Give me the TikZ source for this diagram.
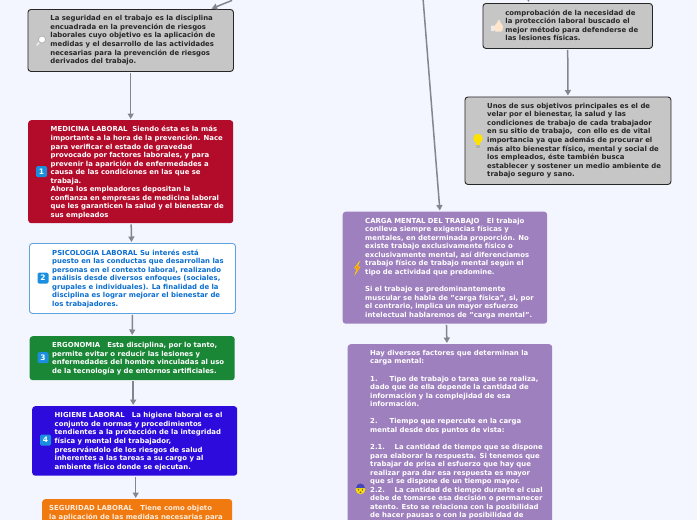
\documentclass[tikz,border=0pt]{standalone}
\usepackage{fontspec}
\setmainfont{DejaVu Sans}
\usetikzlibrary{calc,arrows.meta}
\definecolor{pagebg}{HTML}{F3F6FF}
\definecolor{cgray}{HTML}{C6C6C6}
\definecolor{cred}{HTML}{B30B2A}
\definecolor{cgreen}{HTML}{1A8736}
\definecolor{cindigo}{HTML}{2E0BDD}
\definecolor{corange}{HTML}{F07A10}
\definecolor{cpurple}{HTML}{9F80BF}
\definecolor{cblue}{HTML}{0A6ED0}
\definecolor{cline}{HTML}{85858D}
\definecolor{badge}{HTML}{1A8FE0}
\tikzset{
  x=1pt,y=-1pt,
  boxbase/.style={anchor=north west,inner sep=0pt,rounded corners=3pt},
  graybox/.style={boxbase,fill=cgray,draw=black!85,line width=0.9pt},
  flatbox/.style={boxbase,draw=none},
  txt/.style={anchor=north west,inner sep=0pt,align=left,
     font=\fontsize{6.9}{8.55}\selectfont\bfseries},
  arr/.style={draw=cline,line width=1.5pt,-{Triangle[length=5.5pt,width=6pt]},shorten >=1pt,shorten <=1pt},
  numbadge/.style={fill=badge,rounded corners=1.5pt,text=white,inner sep=0pt,
     minimum size=11pt,font=\fontsize{7.5}{8}\selectfont\bfseries},
}
\begin{document}
\begin{tikzpicture}
\useasboundingbox (0,0) rectangle (697,520);
\clip (0,0) rectangle (697,520);
\fill[pagebg] (0,0) rectangle (697,520);

% boxes
\node[graybox,minimum width=205.5pt,minimum height=62pt] (g1) at (27.5,9) {};
\node[flatbox,fill=cred,minimum width=205pt,minimum height=103pt] (red) at (28,120) {};
\node[boxbase,fill=white,draw=cblue!65,line width=0.9pt,minimum width=206pt,minimum height=70pt] (psi) at (29,243) {};
\node[flatbox,fill=cgreen,minimum width=205pt,minimum height=44pt] (erg) at (29.5,336) {};
\node[flatbox,fill=cindigo,minimum width=205pt,minimum height=69.5pt] (hig) at (32,406) {};
\node[flatbox,fill=corange,minimum width=190pt,minimum height=70pt] (seg) at (42,499) {};
\node[graybox,minimum width=169.5pt,minimum height=45pt] (g2) at (482.5,3) {};
\node[graybox,minimum width=206pt,minimum height=87.5pt] (g3) at (464.5,96.5) {};
\node[flatbox,fill=cpurple,minimum width=204.5pt,minimum height=112pt] (car) at (342.5,211.5) {};
\node[flatbox,fill=cpurple,minimum width=204.5pt,minimum height=260pt] (fac) at (347.5,344) {};

% texts
\node[txt,text=black!85] (tg1) at ($(g1.north west)+(22.7,6.4)$) {La seguridad en el trabajo es la disciplina\\encuadrada en la prevención de riesgos\\laborales cuyo objetivo es la aplicación de\\medidas y el desarrollo de las actividades\\necesarias para la prevención de riesgos\\derivados del trabajo.};
\node[txt,text=white] (tred) at ($(red.north west)+(22.5,6.2)$) {MEDICINA LABORAL\ \ Siendo ésta es la más\\importante a la hora de la prevención. Nace\\para verificar el estado de gravedad\\provocado por factores laborales, y para\\prevenir la aparición de enfermedades a\\causa de las condiciones en las que se\\trabaja.\\Ahora los empleadores depositan la\\confianza en empresas de medicina laboral\\que les garanticen la salud y el bienestar de\\sus empleados};
\node[txt,text=cblue] (tpsi) at ($(psi.north west)+(23,6.4)$) {PSICOLOGIA LABORAL Su interés está\\puesto en las conductas que desarrollan las\\personas en el contexto laboral, realizando\\análisis desde diversos enfoques (sociales,\\grupales e individuales). La finalidad de la\\disciplina es lograr mejorar el bienestar de\\los trabajadores.};
\node[txt,text=white] (terg) at ($(erg.north west)+(22.5,6.4)$) {ERGONOMIA\ \ \ Esta disciplina, por lo tanto,\\permite evitar o reducir las lesiones y\\enfermedades del hombre vinculadas al uso\\de la tecnología y de entornos artificiales.};
\node[txt,text=white] (thig) at ($(hig.north west)+(22.5,6.4)$) {HIGIENE LABORAL\ \ \ La higiene laboral es el\\conjunto de normas y procedimientos\\tendientes a la protección de la integridad\\física y mental del trabajador,\\preservándolo de los riesgos de salud\\inherentes a las tareas a su cargo y al\\ambiente físico donde se ejecutan.};
\node[txt,text=white!85!corange] (tseg) at ($(seg.north west)+(7,6.4)$) {SEGURIDAD LABORAL\ \ \ Tiene como objeto\\la aplicación de las medidas necesarias para};
\node[txt,text=black!85] (tg2) at ($(g2.north west)+(22.7,6.4)$) {comprobación de la necesidad de\\la protección laboral buscado el\\mejor método para defenderse de\\las lesiones físicas.};
\node[txt,text=black!85] (tg3) at ($(g3.north west)+(22.5,6.4)$) {Unos de sus objetivos principales es el de\\velar por el bienestar, la salud y las\\condiciones de trabajo de cada trabajador\\en su sitio de trabajo,\ \ con ello es de vital\\importancia ya que además de procurar el\\más alto bienestar físico, mental y social de\\los empleados, éste también busca\\establecer y sostener un medio ambiente de\\trabajo seguro y sano.};
\node[txt,text=white] (tcar) at ($(car.north west)+(22.5,6.2)$) {CARGA MENTAL DEL TRABAJO\ \ \ El trabajo\\conlleva siempre exigencias físicas y\\mentales, en determinada proporción. No\\existe trabajo exclusivamente físico o\\exclusivamente mental, así diferenciamos\\trabajo físico de trabajo mental según el\\tipo de actividad que predomine.\\[8.55pt]Si el trabajo es predominantemente\\muscular se habla de "carga física", si, por\\el contrario, implica un mayor esfuerzo\\intelectual hablaremos de "carga mental".};
\node[txt,text=white] (tfac) at ($(fac.north west)+(22.5,6)$) {Hay diversos factores que determinan la\\carga mental:\\[8.55pt]1.\ \ \ \ \ Tipo de trabajo o tarea que se realiza,\\dado que de ella depende la cantidad de\\información y la complejidad de esa\\información.\\[8.55pt]2.\ \ \ \ \ Tiempo que repercute en la carga\\mental desde dos puntos de vista:\\[8.55pt]2.1.\ \ \ \ La cantidad de tiempo que se dispone\\para elaborar la respuesta. Si tenemos que\\trabajar de prisa el esfuerzo que hay que\\realizar para dar esa respuesta es mayor\\que si se dispone de un tiempo mayor.\\2.2.\ \ \ \ La cantidad de tiempo durante el cual\\debe de tomarse esa decisión o permanecer\\atento. Esto se relaciona con la posibilidad\\de hacer pausas o con la posibilidad de};

% connectors
\coordinate (inA) at (233,0);
\coordinate (inB) at (528,-6);
\coordinate (inC) at (423,-2);
\draw[arr] (inA) -- ([xshift=80pt]g1.north);
\draw[arr] (inB) -- ([xshift=-39pt]g2.north);
\draw[arr] (inC) -- ([xshift=-5pt]car.north);
\draw[arr] (g1.south) -- (red.north);
\draw[arr] ([xshift=.5pt]red.south) -- ([xshift=-1pt]psi.north);
\draw[arr] (psi.south) -- (erg.north);
\draw[arr] ([xshift=1pt]erg.south) -- ([xshift=-1.5pt]hig.north);
\draw[arr] ([xshift=1pt]hig.south) -- ([xshift=-1.5pt]seg.north);
\draw[arr] (g2.south) -- (g3.north);
\draw[arr] ([xshift=1.5pt]car.south) -- ([xshift=-3pt]fac.north);

% icons
\node[numbadge] (n1) at (41.5,171.5) {1};
\node[numbadge] (n2) at (43,278) {2};
\node[numbadge] (n3) at (43,357.5) {3};
\node[numbadge] (n4) at (45.5,440) {4};
% magnifier
\draw[white!85!gray,line width=1.6pt,line cap=round] (37,45) -- (39.5,42);
\draw[gray!60,line width=.8pt,fill=white] (42,39.5) circle (3.6pt);
% thumb
\fill[white!85!gray,rounded corners=.5pt] (491,25.5) rectangle (494,31);
\fill[orange!20!white,rounded corners=1.5pt] (494,25) -- (497,24) -- (498,19.5) -- (500,19.5) -- (500.5,24) -- (503,24.5) -- (502.5,31.5) -- (494,31.5) -- cycle;
% bulb
\fill[yellow!85!orange] (478,138.5) circle (4.8pt);
\fill[yellow!85!orange] (475.8,141) rectangle (480.2,144.5);
\fill[gray!60] (476,144.5) rectangle (480,147.5);
% lightning
\fill[orange!90!yellow,draw=yellow!80!orange,line width=.4pt] (359.5,261.5) -- (354.5,268) -- (357,268.5) -- (355,274.5) -- (360,267) -- (357.5,266.5) -- cycle;
% scared face
\fill[yellow!80!orange] (360.5,489.5) circle (4.8pt);
\fill[blue!45!gray] (356,488) arc (180:0:4.5pt) -- cycle;
\fill[black!70] (358.5,489.8) circle (.7pt) (362.5,489.8) circle (.7pt);
\fill[black!60] (360.5,492.3) ellipse (1.2pt and .9pt);
\end{tikzpicture}
\end{document}
